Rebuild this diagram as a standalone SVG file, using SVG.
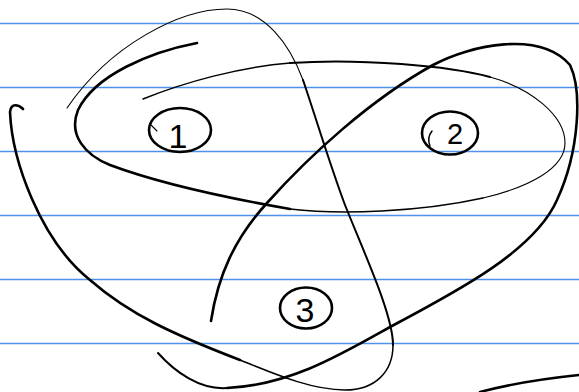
<svg xmlns="http://www.w3.org/2000/svg" width="579" height="392" viewBox="0 0 579 392">
<style>
.rule{stroke:#4d93ec;stroke-width:1.4;fill:none}
.ink{stroke:#000;fill:none;stroke-linecap:round;stroke-linejoin:round}
.w1{stroke-width:1.1}.w2{stroke-width:1.5}.w3{stroke-width:2}.w4{stroke-width:2.6}
.digit{font-family:"Liberation Sans",Arial,sans-serif;fill:#000;text-anchor:middle}
</style>
<rect width="579" height="392" fill="#fff"/>
<g id="paper">
<line class="rule" x1="0" y1="23.5" x2="579" y2="23.5"/>
<line class="rule" x1="0" y1="87.5" x2="579" y2="87.5"/>
<line class="rule" x1="0" y1="151.5" x2="579" y2="151.5"/>
<line class="rule" x1="0" y1="215.5" x2="579" y2="215.5"/>
<line class="rule" x1="0" y1="279.5" x2="579" y2="279.5"/>
<line class="rule" x1="0" y1="343.5" x2="579" y2="343.5"/>
</g>
<g id="connectors">
<!-- big left loop -->
<path class="ink w4" d="M23,109 C19,105 11,102 10,112 C12,160 40,240 90,280 C130,315 175,335 240,360"/>
<path class="ink w2" d="M240,360 C270,372 310,390 345,390 C375,390 393,372 393,345"/>
<path class="ink w3" d="M393,345 C393,315 365,255 345,205 C330,165 315,115 303,80"/>
<path class="ink w1" d="M303,80 C290,45 265,9 227,9 C180,9 110,45 67,108"/>
<!-- ellipse around 1 and 2 -->
<path class="ink w4" d="M197,43 C150,52 95,75 78,110 C68,135 85,155 110,165 C150,180 210,195 290,209"/>
<path class="ink w2" d="M290,209 C340,215 420,212 483,198"/>
<path class="ink w1" d="M483,198 C530,187 565,168 565,143 C565,115 530,88 490,77"/>
<path class="ink w3" d="M490,77 C450,66 360,58 290,63"/>
<path class="ink w2" d="M290,63 C240,67 185,82 143,99"/>
<!-- loop around 2 and 3 -->
<path class="ink w4" d="M211,321 C218,275 235,238 267,203 C310,155 370,100 433,65 C470,45 540,30 570,65 C582,90 580,150 557,200 C535,250 460,290 390,327 C340,355 290,385 227,388"/>
<path class="ink w3" d="M227,388 C200,390 175,372 158,353"/>
<!-- bottom right stroke -->
<path class="ink w4" d="M480,392 C510,384 550,378 579,375"/>
</g>
<g id="node1">
<ellipse class="ink w4" cx="180" cy="130" rx="31" ry="22"/>
<path class="ink w1" d="M151,125 L157,131"/>
<text class="digit" x="178" y="148" font-size="34">1</text>
</g>
<g id="node2">
<ellipse class="ink w4" cx="450" cy="133" rx="28" ry="21.5"/>
<path class="ink w2" d="M432,131 C428,136 428,141 430,146"/>
<text class="digit" x="455" y="144" font-size="29">2</text>
</g>
<g id="node3">
<ellipse class="ink w4" cx="306" cy="308" rx="26" ry="20.5"/>
<text class="digit" x="305" y="322" font-size="34">3</text>
</g>
</svg>
